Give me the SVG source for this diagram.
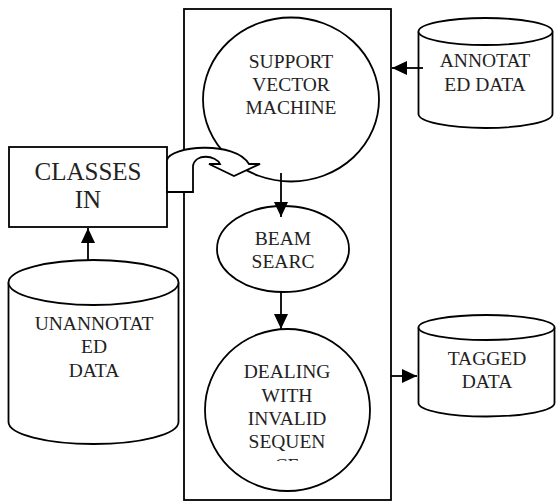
<svg xmlns="http://www.w3.org/2000/svg" width="556" height="502" viewBox="0 0 556 502">
  <style>
    .shape { fill: #fff; stroke: #000; stroke-width: 1.8; }
    .line { fill: none; stroke: #000; stroke-width: 1.8; }
    .label { font-family: "Liberation Serif", "Times New Roman", serif; font-size: 19.5px; fill: #222; text-anchor: middle; }
    .big { font-size: 25px; }
  </style>
  <defs>
    <marker id="head" markerUnits="userSpaceOnUse" markerWidth="15" markerHeight="14" refX="15" refY="7" orient="auto">
      <path d="M0,0 L15,7 L0,14 Z" fill="#000"/>
    </marker>
    <clipPath id="dealing-clip">
      <rect x="200" y="330" width="180" height="131"/>
    </clipPath>
  </defs>

  <!-- processing frame -->
  <rect id="frame" class="shape" x="184" y="9" width="207" height="491"/>

  <g id="svm">
    <ellipse class="shape" cx="291" cy="99.5" rx="88" ry="82"/>
    <text class="label" x="291" y="68">SUPPORT</text>
    <text class="label" x="291" y="91">VECTOR</text>
    <text class="label" x="291" y="113.5">MACHINE</text>
  </g>

  <g id="beam">
    <ellipse class="shape" cx="283" cy="249" rx="66" ry="43"/>
    <text class="label" x="283" y="245">BEAM</text>
    <text class="label" x="283" y="268">SEARC</text>
  </g>

  <g id="dealing">
    <ellipse class="shape" cx="287.5" cy="410" rx="82.5" ry="81"/>
    <g clip-path="url(#dealing-clip)">
      <text class="label" x="287" y="378">DEALING</text>
      <text class="label" x="287" y="401.5">WITH</text>
      <text class="label" x="287" y="425">INVALID</text>
      <text class="label" x="287" y="448">SEQUEN</text>
      <text class="label" x="287" y="471.5">CE</text>
    </g>
  </g>

  <g id="classes">
    <rect class="shape" x="9" y="147" width="158" height="80"/>
    <text class="label big" x="88" y="180">CLASSES</text>
    <text class="label big" x="88" y="208">IN</text>
  </g>

  <g id="unannotated">
    <path class="shape" d="M8.5,282.5 V422 A85,22 0 0 0 178.5,422 V282.5"/>
    <ellipse class="shape" cx="93.5" cy="282.5" rx="85" ry="22.5"/>
    <text class="label" x="94" y="330">UNANNOTAT</text>
    <text class="label" x="94" y="353">ED</text>
    <text class="label" x="94" y="377">DATA</text>
  </g>

  <g id="annotated">
    <path class="shape" d="M418.5,31.5 V114 A67,14 0 0 0 552.5,114 V31.5"/>
    <ellipse class="shape" cx="485.5" cy="31.5" rx="67" ry="13.5"/>
    <text class="label" x="485" y="67">ANNOTAT</text>
    <text class="label" x="485" y="91">ED DATA</text>
  </g>

  <g id="tagged">
    <path class="shape" d="M418.5,327.5 V403 A68,13.5 0 0 0 554.5,403 V327.5"/>
    <ellipse class="shape" cx="486.5" cy="327.5" rx="68" ry="12.5"/>
    <text class="label" x="487" y="365">TAGGED</text>
    <text class="label" x="487" y="388">DATA</text>
  </g>

  <g id="connectors">
    <line class="line" x1="88" y1="260" x2="88" y2="228" marker-end="url(#head)"/>
    <line class="line" x1="423" y1="68" x2="392" y2="68" marker-end="url(#head)"/>
    <line class="line" x1="391" y1="376" x2="417" y2="376" marker-end="url(#head)"/>
    <line class="line" x1="281" y1="173" x2="281" y2="217" marker-end="url(#head)"/>
    <line class="line" x1="281" y1="292" x2="281" y2="329" marker-end="url(#head)"/>
    <!-- curved block arrow from the classes box into the classifier -->
    <path class="shape" d="M167,192 L167,160 C170,146 235,140 249,164 L260,164 L234,176 L209,164 L220,164 C216,155 195,153 193,166 L193,192 Z"/>
  </g>
</svg>
